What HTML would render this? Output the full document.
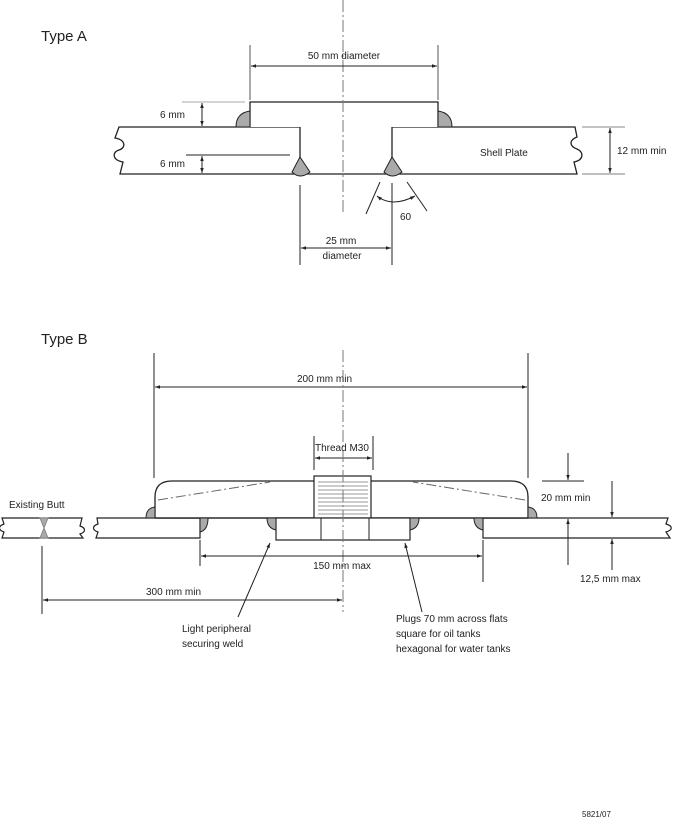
<!DOCTYPE html>
<html><head><meta charset="utf-8"><style>
html,body{margin:0;padding:0;background:#fff}
svg{display:block}
text{font-family:"Liberation Sans",Arial,sans-serif;fill:#222}
</style></head><body>
<svg width="673" height="824" viewBox="0 0 673 824" xmlns="http://www.w3.org/2000/svg">
<defs>
<marker id="a" viewBox="0 0 10 10" refX="10" refY="5" markerWidth="6" markerHeight="5" orient="auto-start-reverse"><path d="M0,1.5 L10,5 L0,8.5z" fill="#222"/></marker>
</defs>
<g stroke="#222" stroke-width="1" fill="none">
<!-- TYPE A -->
<path d="M119,127 H300 V174 H120 L123,162 C112,160 112,152 119,150 C126,148 126,140 115,138 Z" fill="#fff" stroke-width="1.3"/>
<path d="M392,174 V127 H575 L577,137 C569,140 569,146 577,149 C584,152 584,160 574,162 L577,174 Z" fill="#fff" stroke-width="1.3"/>
<line x1="300" y1="174" x2="392" y2="174" stroke-width="1.3"/>
<path d="M250,127 V102 H438 V127" fill="#fff" stroke-width="1.3"/>
<line x1="343" y1="0" x2="343" y2="215" stroke="#777" stroke-dasharray="12,3,2,3"/>
<path d="M236,127 Q236,113 250,111 V127Z" fill="#aaa"/>
<path d="M452,127 Q452,113 438,111 V127Z" fill="#aaa"/>
<path d="M300,157 L292,172 Q300,180 310,172 Z" fill="#aaa"/>
<path d="M392,157 L384,172 Q392,180 402,172 Z" fill="#aaa"/>
<line x1="250" y1="45" x2="250" y2="100" stroke="#555"/>
<line x1="438" y1="45" x2="438" y2="100" stroke="#555"/>
<line x1="251" y1="66" x2="437" y2="66" marker-start="url(#a)" marker-end="url(#a)"/>
<line x1="182" y1="102" x2="245" y2="102" stroke="#aaa"/>
<line x1="202" y1="103" x2="202" y2="126" marker-start="url(#a)" marker-end="url(#a)"/>
<line x1="186" y1="155" x2="290" y2="155"/>
<line x1="202" y1="156" x2="202" y2="173" marker-start="url(#a)" marker-end="url(#a)"/>
<line x1="582" y1="127" x2="625" y2="127" stroke="#888"/>
<line x1="582" y1="174" x2="625" y2="174" stroke="#aaa" stroke-width="1.5"/>
<line x1="610" y1="128" x2="610" y2="173" marker-start="url(#a)" marker-end="url(#a)"/>
<line x1="300" y1="185" x2="300" y2="265"/>
<line x1="392" y1="183" x2="392" y2="265"/>
<line x1="301" y1="248" x2="391" y2="248" marker-start="url(#a)" marker-end="url(#a)"/>
<line x1="380" y1="182" x2="366" y2="214"/>
<line x1="407" y1="182" x2="427" y2="211"/>
<path d="M377,196 Q392,208 415,196" marker-start="url(#a)" marker-end="url(#a)"/>

<!-- TYPE B -->
<line x1="154" y1="353" x2="154" y2="478"/>
<line x1="528" y1="353" x2="528" y2="478"/>
<line x1="155" y1="387" x2="527" y2="387" marker-start="url(#a)" marker-end="url(#a)"/>
<line x1="314" y1="436" x2="314" y2="470"/>
<line x1="373" y1="436" x2="373" y2="470"/>
<line x1="315" y1="458" x2="372" y2="458" marker-start="url(#a)" marker-end="url(#a)"/>
<path d="M2,518 H82 L80,526 C86,528 86,532 80,534 L83,538 H2 L4,532 C-2,530 -2,526 4,524 Z" fill="#fff" stroke-width="1.2"/>
<path d="M40,518 L48,518 L44,528 Z M40,538 L48,538 L44,528 Z" fill="#aaa" stroke="#888"/>
<path d="M97,518 H200 V538 H96 L98,532 C92,530 92,526 98,524 Z" fill="#fff" stroke-width="1.2"/>
<path d="M483,538 V518 H668 L666,524 C673,526 673,530 666,532 L670,538 Z" fill="#fff" stroke-width="1.2"/>
<path d="M155,518 V497 Q155,481 172,481 H511 Q528,481 528,497 V518 Z" fill="#fff" stroke-width="1.3"/>
<line x1="155" y1="518" x2="528" y2="518" stroke-width="1.3"/>
<line x1="158" y1="500" x2="270" y2="482" stroke="#666" stroke-dasharray="10,3,2,3"/>
<line x1="525" y1="500" x2="413" y2="482" stroke="#666" stroke-dasharray="10,3,2,3"/>
<rect x="314" y="476" width="57" height="42" fill="#fff" stroke-width="1.2"/>
<g stroke="#999"><line x1="318" y1="482" x2="368" y2="482"/><line x1="318" y1="486" x2="368" y2="486"/><line x1="318" y1="490" x2="368" y2="490"/><line x1="318" y1="494" x2="368" y2="494"/><line x1="318" y1="498" x2="368" y2="498"/><line x1="318" y1="502" x2="368" y2="502"/><line x1="318" y1="506" x2="368" y2="506"/><line x1="318" y1="510" x2="368" y2="510"/><line x1="318" y1="514" x2="368" y2="514"/></g>
<rect x="276" y="518" width="134" height="22" fill="#fff" stroke-width="1.2"/>
<line x1="321" y1="518" x2="321" y2="540"/><line x1="369" y1="518" x2="369" y2="540"/>
<line x1="343" y1="350" x2="343" y2="612" stroke="#777" stroke-dasharray="12,3,2,3"/>
<path d="M146,518 Q146,508 155,507 V518Z" fill="#aaa"/>
<path d="M537,518 Q537,508 528,507 V518Z" fill="#aaa"/>
<path d="M200,518 V532 Q208,530 208,518Z" fill="#aaa"/>
<path d="M276,518 V530 Q267,528 267,518Z" fill="#aaa"/>
<path d="M410,518 V530 Q419,528 419,518Z" fill="#aaa"/>
<path d="M483,518 V530 Q474,528 474,518Z" fill="#aaa"/>
<line x1="200" y1="540" x2="200" y2="566"/>
<line x1="483" y1="540" x2="483" y2="582"/>
<line x1="201" y1="556" x2="482" y2="556" marker-start="url(#a)" marker-end="url(#a)"/>
<line x1="42" y1="546" x2="42" y2="614"/>
<line x1="43" y1="600" x2="342" y2="600" marker-start="url(#a)" marker-end="url(#a)"/>
<line x1="542" y1="481" x2="584" y2="481"/>
<line x1="568" y1="453" x2="568" y2="480" marker-end="url(#a)"/>
<line x1="612" y1="481" x2="612" y2="517" marker-end="url(#a)"/>
<line x1="568" y1="565" x2="568" y2="519" marker-end="url(#a)"/>
<line x1="612" y1="570" x2="612" y2="539" marker-end="url(#a)"/>
<line x1="238" y1="617" x2="270" y2="543" marker-end="url(#a)"/>
<line x1="422" y1="612" x2="405" y2="543" marker-end="url(#a)"/>
</g>
<g font-size="10">
<text x="41" y="41" font-size="15">Type A</text>
<text x="344" y="59" text-anchor="middle">50 mm diameter</text>
<text x="160" y="118">6 mm</text>
<text x="160" y="167">6 mm</text>
<text x="480" y="156">Shell Plate</text>
<text x="617" y="154">12 mm min</text>
<text x="400" y="220">60</text>
<text x="341" y="244" text-anchor="middle">25 mm</text>
<text x="342" y="259" text-anchor="middle">diameter</text>
<text x="41" y="344" font-size="15">Type B</text>
<text x="297" y="382">200 mm min</text>
<text x="315" y="451">Thread M30</text>
<text x="541" y="501">20 mm min</text>
<text x="9" y="508">Existing Butt</text>
<text x="342" y="569" text-anchor="middle">150 mm max</text>
<text x="580" y="582">12,5 mm max</text>
<text x="146" y="595">300 mm min</text>
<text x="182" y="632">Light peripheral</text>
<text x="182" y="647">securing weld</text>
<text x="396" y="622">Plugs 70 mm across flats</text>
<text x="396" y="637">square for oil tanks</text>
<text x="396" y="652">hexagonal for water tanks</text>
<text x="582" y="817" font-size="8">5821/07</text>
</g>
</svg>
</body></html>
